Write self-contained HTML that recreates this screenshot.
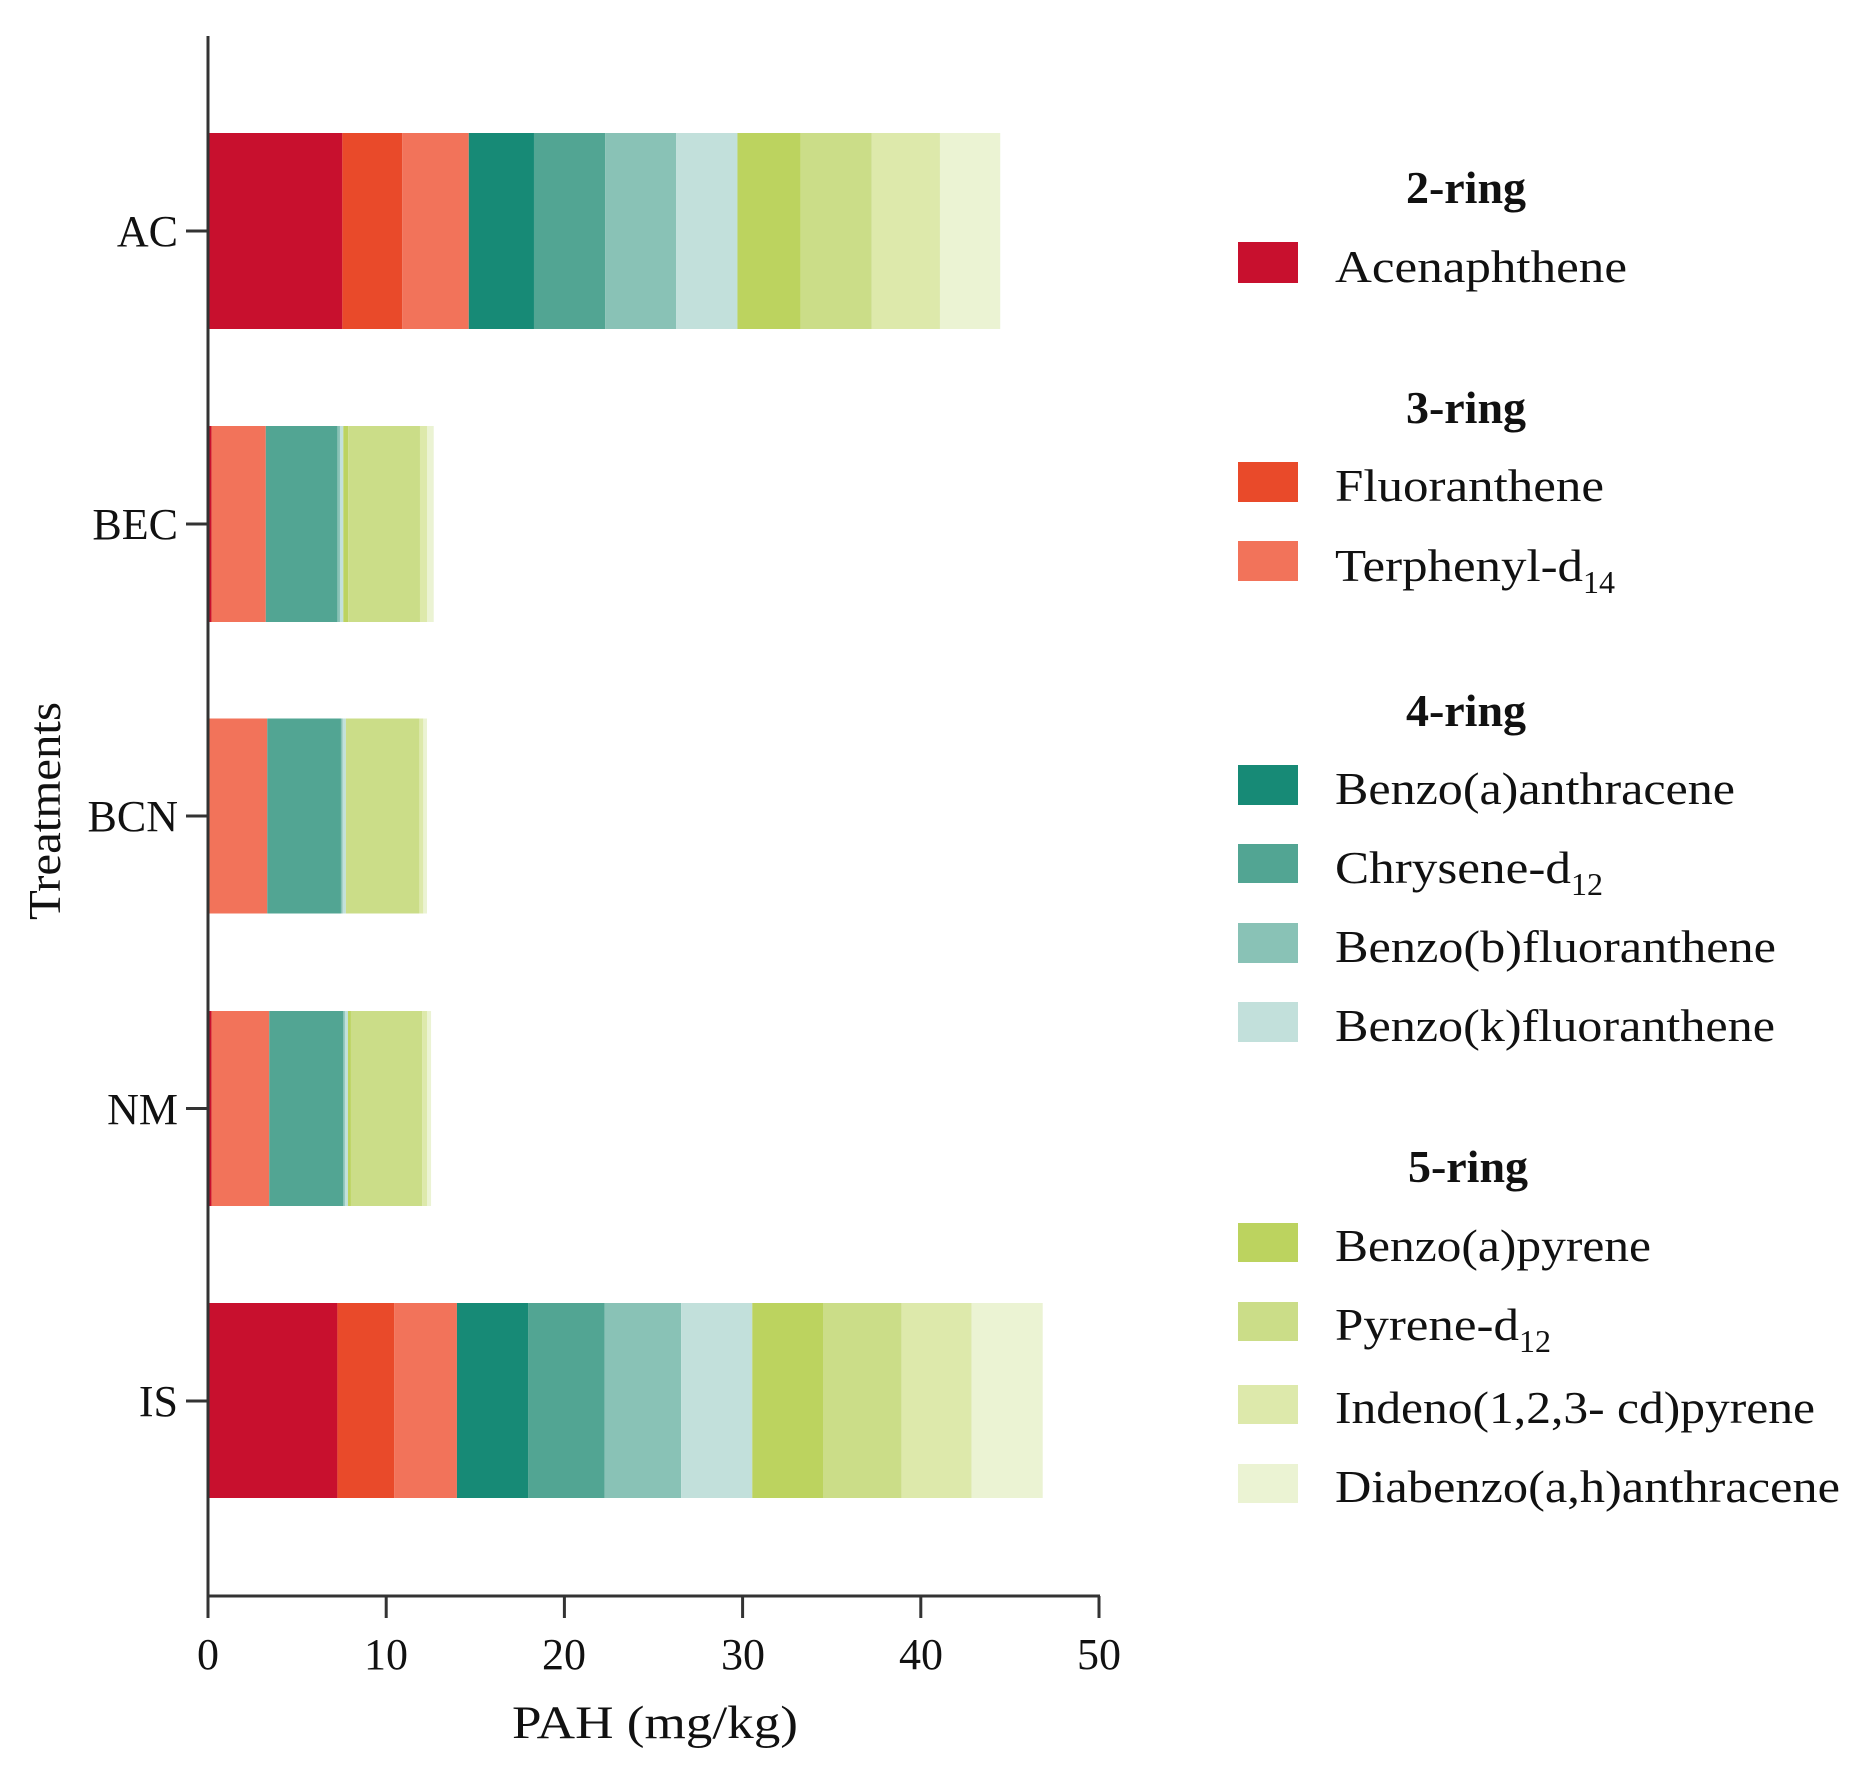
<!DOCTYPE html>
<html><head><meta charset="utf-8"><style>
html,body{margin:0;padding:0;background:#fff}
svg{display:block}
text{font-family:"Liberation Serif",serif;fill:#111}
</style></head><body>
<svg width="1851" height="1767" viewBox="0 0 1851 1767" xmlns="http://www.w3.org/2000/svg">
<g transform="translate(208,0) scale(0.9878,1) translate(-209,0)">
<!-- AC -->
<g>
<rect x="209" y="133" width="136" height="196" fill="#C8102E"/>
<rect x="345" y="133" width="60.5" height="196" fill="#E94A2A"/>
<rect x="405.5" y="133" width="67.5" height="196" fill="#F2735A"/>
<rect x="473" y="133" width="66" height="196" fill="#178A76"/>
<rect x="539" y="133" width="72" height="196" fill="#52A593"/>
<rect x="611" y="133" width="72" height="196" fill="#89C2B6"/>
<rect x="683" y="133" width="62" height="196" fill="#C2E0DB"/>
<rect x="745" y="133" width="64" height="196" fill="#BCD35F"/>
<rect x="809" y="133" width="72" height="196" fill="#CBDD88"/>
<rect x="881" y="133" width="69" height="196" fill="#DDE9AB"/>
<rect x="950" y="133" width="61" height="196" fill="#EBF3D3"/>
</g>
<!-- BEC -->
<g>
<rect x="209" y="426" width="3.5" height="196" fill="#C8102E"/>
<rect x="212.5" y="426" width="55" height="196" fill="#F2735A"/>
<rect x="267.5" y="426" width="72.5" height="196" fill="#52A593"/>
<rect x="340" y="426" width="2.6" height="196" fill="#89C2B6"/>
<rect x="342.6" y="426" width="3.4" height="196" fill="#C2E0DB"/>
<rect x="346" y="426" width="5" height="196" fill="#BCD35F"/>
<rect x="351" y="426" width="72.6" height="196" fill="#CBDD88"/>
<rect x="423.6" y="426" width="7.1" height="196" fill="#DDE9AB"/>
<rect x="430.7" y="426" width="6.8" height="196" fill="#EBF3D3"/>
</g>
<!-- BCN -->
<g>
<rect x="209" y="718.5" width="1" height="195" fill="#C8102E"/>
<rect x="210" y="718.5" width="59" height="195" fill="#F2735A"/>
<rect x="269" y="718.5" width="74.6" height="195" fill="#52A593"/>
<rect x="343.6" y="718.5" width="1.6" height="195" fill="#89C2B6"/>
<rect x="345.2" y="718.5" width="3.4" height="195" fill="#C2E0DB"/>
<rect x="348.6" y="718.5" width="74.4" height="195" fill="#CBDD88"/>
<rect x="423" y="718.5" width="4" height="195" fill="#DDE9AB"/>
<rect x="427" y="718.5" width="3.7" height="195" fill="#EBF3D3"/>
</g>
<!-- NM -->
<g>
<rect x="209" y="1011" width="3.5" height="195" fill="#C8102E"/>
<rect x="212.5" y="1011" width="58.5" height="195" fill="#F2735A"/>
<rect x="271" y="1011" width="75" height="195" fill="#52A593"/>
<rect x="346" y="1011" width="1.6" height="195" fill="#89C2B6"/>
<rect x="347.6" y="1011" width="3.1" height="195" fill="#C2E0DB"/>
<rect x="350.7" y="1011" width="3" height="195" fill="#BCD35F"/>
<rect x="353.7" y="1011" width="72" height="195" fill="#CBDD88"/>
<rect x="425.7" y="1011" width="5" height="195" fill="#DDE9AB"/>
<rect x="430.7" y="1011" width="4.1" height="195" fill="#EBF3D3"/>
</g>
<!-- IS -->
<g>
<rect x="209" y="1303" width="131" height="195" fill="#C8102E"/>
<rect x="340" y="1303" width="57.6" height="195" fill="#E94A2A"/>
<rect x="397.6" y="1303" width="63.4" height="195" fill="#F2735A"/>
<rect x="461" y="1303" width="72" height="195" fill="#178A76"/>
<rect x="533" y="1303" width="77.5" height="195" fill="#52A593"/>
<rect x="610.5" y="1303" width="77.5" height="195" fill="#89C2B6"/>
<rect x="688" y="1303" width="72" height="195" fill="#C2E0DB"/>
<rect x="760" y="1303" width="71.6" height="195" fill="#BCD35F"/>
<rect x="831.6" y="1303" width="79.4" height="195" fill="#CBDD88"/>
<rect x="911" y="1303" width="71" height="195" fill="#DDE9AB"/>
<rect x="982" y="1303" width="72" height="195" fill="#EBF3D3"/>
</g>
</g>
<!-- axes -->
<g stroke="#333" stroke-width="3" fill="none">
<line x1="208" y1="36" x2="208" y2="1597"/>
<line x1="207" y1="1596" x2="1100" y2="1596"/>
<line x1="208" y1="1596" x2="208" y2="1618"/>
<line x1="386.2" y1="1596" x2="386.2" y2="1618"/>
<line x1="564.4" y1="1596" x2="564.4" y2="1618"/>
<line x1="742.6" y1="1596" x2="742.6" y2="1618"/>
<line x1="920.8" y1="1596" x2="920.8" y2="1618"/>
<line x1="1099" y1="1596" x2="1099" y2="1618"/>
<line x1="186" y1="231" x2="208" y2="231"/>
<line x1="186" y1="524" x2="208" y2="524"/>
<line x1="186" y1="816" x2="208" y2="816"/>
<line x1="186" y1="1108.5" x2="208" y2="1108.5"/>
<line x1="186" y1="1401" x2="208" y2="1401"/>
</g>
<g font-size="44" text-anchor="end">
<text x="178" y="246">AC</text>
<text x="178" y="539">BEC</text>
<text x="178" y="831">BCN</text>
<text x="178" y="1124">NM</text>
<text x="178" y="1416">IS</text>
</g>
<g font-size="44" text-anchor="middle">
<text x="208" y="1669">0</text>
<text x="386" y="1669">10</text>
<text x="564" y="1669">20</text>
<text x="743" y="1669">30</text>
<text x="921" y="1669">40</text>
<text x="1099" y="1669">50</text>
</g>
<text x="655" y="1738" font-size="47" text-anchor="middle" textLength="286" lengthAdjust="spacingAndGlyphs">PAH (mg/kg)</text>
<text transform="translate(60,811) rotate(-90)" font-size="46" text-anchor="middle" textLength="218" lengthAdjust="spacingAndGlyphs">Treatments</text>
<!-- legend -->
<g font-size="46" font-weight="bold" text-anchor="middle">
<text x="1466" y="203">2-ring</text>
<text x="1466" y="423">3-ring</text>
<text x="1466" y="726">4-ring</text>
<text x="1468" y="1182">5-ring</text>
</g>
<g>
<rect x="1238" y="242" width="60" height="41" fill="#C8102E"/>
<rect x="1238" y="462" width="60" height="40" fill="#E94A2A"/>
<rect x="1238" y="541" width="60" height="40" fill="#F2735A"/>
<rect x="1238" y="765" width="60" height="40" fill="#178A76"/>
<rect x="1238" y="844" width="60" height="39" fill="#52A593"/>
<rect x="1238" y="923" width="60" height="40" fill="#89C2B6"/>
<rect x="1238" y="1002" width="60" height="40" fill="#C2E0DB"/>
<rect x="1238" y="1223" width="60" height="39" fill="#BCD35F"/>
<rect x="1238" y="1302" width="60" height="39" fill="#CBDD88"/>
<rect x="1238" y="1385" width="60" height="39" fill="#DDE9AB"/>
<rect x="1238" y="1464" width="60" height="39" fill="#EBF3D3"/>
</g>
<g font-size="46">
<text x="1335" y="282" textLength="292" lengthAdjust="spacingAndGlyphs">Acenaphthene</text>
<text x="1335" y="501" textLength="269" lengthAdjust="spacingAndGlyphs">Fluoranthene</text>
<text x="1335" y="581"><tspan textLength="248" lengthAdjust="spacingAndGlyphs">Terphenyl-d</tspan><tspan font-size="32" dy="12">14</tspan></text>
<text x="1335" y="804" textLength="400" lengthAdjust="spacingAndGlyphs">Benzo(a)anthracene</text>
<text x="1335" y="883"><tspan textLength="236" lengthAdjust="spacingAndGlyphs">Chrysene-d</tspan><tspan font-size="32" dy="12">12</tspan></text>
<text x="1335" y="962" textLength="441" lengthAdjust="spacingAndGlyphs">Benzo(b)fluoranthene</text>
<text x="1335" y="1041" textLength="440" lengthAdjust="spacingAndGlyphs">Benzo(k)fluoranthene</text>
<text x="1335" y="1261" textLength="316" lengthAdjust="spacingAndGlyphs">Benzo(a)pyrene</text>
<text x="1335" y="1340"><tspan textLength="184" lengthAdjust="spacingAndGlyphs">Pyrene-d</tspan><tspan font-size="32" dy="12">12</tspan></text>
<text x="1335" y="1423" textLength="480" lengthAdjust="spacingAndGlyphs">Indeno(1,2,3- cd)pyrene</text>
<text x="1335" y="1502" textLength="505" lengthAdjust="spacingAndGlyphs">Diabenzo(a,h)anthracene</text>
</g>
</svg>
</body></html>
